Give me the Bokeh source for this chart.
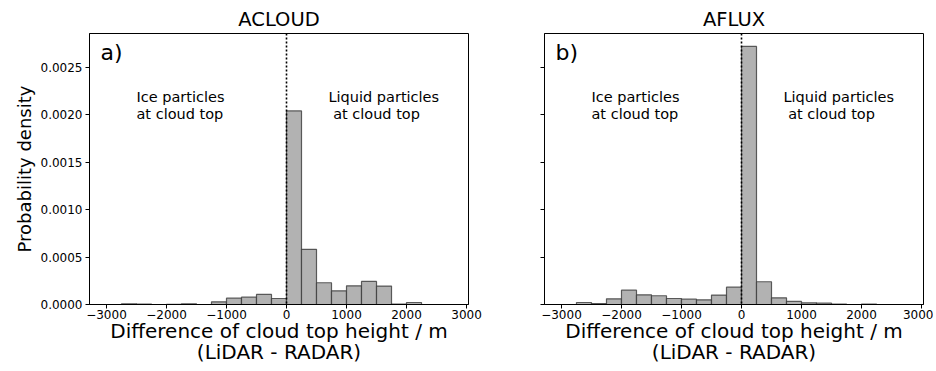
from bokeh.plotting import figure
from bokeh.layouts import row
from bokeh.models import Range1d, FixedTicker, PrintfTickFormatter, Span, Label
from bokeh.embed import file_html
from bokeh.resources import INLINE

# ---- data ----
bin_edges = [-3000, -2750, -2500, -2250, -2000, -1750, -1500, -1250, -1000, -750, -500, -250,
             0, 250, 500, 750, 1000, 1250, 1500, 1750, 2000, 2250, 2500, 2750]
acloud_density = [0.0, 0.000007, 0.000004, 0.0, 0.000002, 0.000007, 0.0, 0.000028,
                  0.000067, 0.000077, 0.000106, 0.000063,
                  0.00204, 0.000581, 0.000229, 0.000144, 0.000197, 0.000243, 0.000194,
                  0.000005, 0.000021, 0.0, 0.0]
aflux_density = [0.0, 0.000021, 0.0000105, 0.000060, 0.000151, 0.000102, 0.000092, 0.000063,
                 0.000056, 0.000049, 0.000099, 0.000183,
                 0.00272, 0.00024, 0.000070, 0.000032, 0.000018, 0.000014, 0.000004,
                 0.0, 0.000004, 0.0, 0.0]
x_ticks = [-3000, -2000, -1000, 0, 1000, 2000, 3000]
x_tick_labels = ["\u22123000", "\u22122000", "\u22121000", "0", "1000", "2000", "3000"]
y_ticks = [0.0, 0.0005, 0.0010, 0.0015, 0.0020, 0.0025]
titles = ["ACLOUD", "AFLUX"]
panel_letters = ["a)", "b)"]

FONT = "DejaVu Sans"


def make_panel(density, title, letter, show_ylabels, border_left, border_right):
    p = figure(frame_width=379, frame_height=271, output_backend="svg", toolbar_location=None,
               x_range=Range1d(-3283, 3033), y_range=Range1d(0, 0.002856),
               min_border_left=border_left, min_border_right=border_right,
               min_border_top=33, min_border_bottom=64, title=title)
    p.title.text_font = FONT
    p.title.text_font_size = "19.5px"
    p.title.text_font_style = "normal"
    p.title.text_color = "black"
    p.title.align = "center"
    p.title.standoff = 5
    p.xgrid.visible = False
    p.ygrid.visible = False
    p.outline_line_color = "black"
    p.outline_line_width = 1
    p.background_fill_color = "white"
    p.border_fill_color = "white"

    left = bin_edges[:-1]
    right = bin_edges[1:]
    p.quad(left=left, right=right, bottom=[0] * len(density), top=density,
           fill_color="#b2b2b2", line_color="#383838", line_alpha=0.8, line_width=1.2)

    p.add_layout(Span(location=0, dimension="height", line_color="black",
                      line_dash="2 2", line_width=1.6))

    for ax in (p.xaxis[0], p.yaxis[0]):
        ax.major_tick_in = 0
        ax.major_tick_out = 4
        ax.minor_tick_line_color = None
        ax.axis_line_color = "black"
        ax.major_tick_line_color = "black"
        ax.major_label_text_font = FONT
        ax.major_label_text_font_size = "12px"
        ax.major_label_text_color = "black"
        ax.axis_label_text_font = FONT
        ax.axis_label_text_font_style = "normal"
        ax.axis_label_text_color = "black"
        ax.major_label_standoff = 3

    p.xaxis.ticker = FixedTicker(ticks=x_ticks)
    p.xaxis.major_label_overrides = {t: s for t, s in zip(x_ticks, x_tick_labels)}
    p.xaxis.major_label_standoff = 1
    p.xaxis.axis_label = "Difference of cloud top height / m\n(LiDAR - RADAR)"
    p.xaxis.axis_label_text_font_size = "20px"
    p.xaxis.axis_label_text_line_height = 0.88
    p.xaxis.axis_label_standoff = -3

    p.yaxis.ticker = FixedTicker(ticks=y_ticks)
    if show_ylabels:
        p.yaxis.formatter = PrintfTickFormatter(format="%.4f")
        p.yaxis.axis_label = "Probability density"
        p.yaxis.axis_label_text_font_size = "18px"
        p.yaxis.axis_label_standoff = 3
    else:
        p.yaxis.major_label_overrides = {t: "" for t in y_ticks}

    p.add_layout(Label(x=-3100, y=0.00279, text=letter, text_font=FONT, text_font_size="22px",
                       text_baseline="top", text_align="left", text_color="black"))
    for (xx, yy, txt) in [(-2500, 0.002189, "Ice particles"), (-2500, 0.002010, "at cloud top"),
                          (700, 0.002189, "Liquid particles"), (777, 0.002010, "at cloud top")]:
        p.add_layout(Label(x=xx, y=yy, text=txt, text_font=FONT, text_font_size="14.5px",
                           text_baseline="alphabetic", text_align="left", text_color="black"))
    return p


p1 = make_panel(acloud_density, titles[0], panel_letters[0], True, 89, 15)
p2 = make_panel(aflux_density, titles[1], panel_letters[1], False, 61, 10)

layout = row(p1, p2)
open("out.html", "w").write(file_html(layout, INLINE))
